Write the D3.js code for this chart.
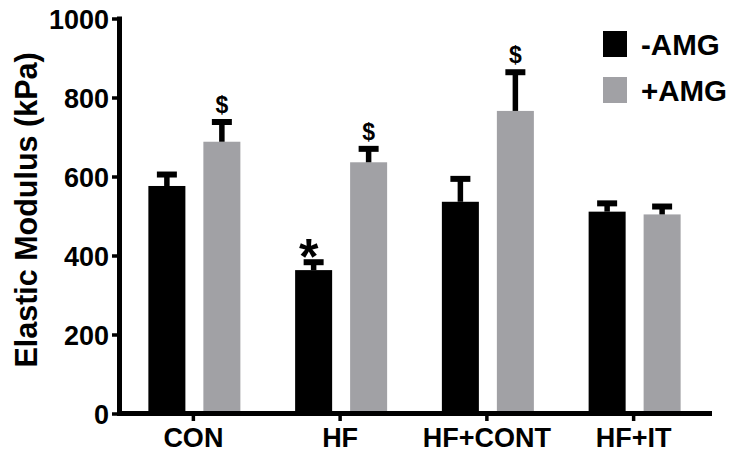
<!DOCTYPE html>
<html>
<head>
<meta charset="utf-8">
<script src="https://cdn.jsdelivr.net/npm/d3@7"></script>
<style>
  html, body { margin: 0; padding: 0; background: #fff; }
  svg { display: block; font-family: "Liberation Sans", Arial, sans-serif; font-weight: bold; }
</style>
</head>
<body>
<svg id="chart" width="735" height="456"></svg>
<script>
// Elastic modulus by group, without (-AMG) and with (+AMG) treatment
const groups = ["CON", "HF", "HF+CONT", "HF+IT"];
const seriesNames = ["-AMG", "+AMG"];
const meanMinus = [576, 363, 536, 511];
const semMinus = [29, 20, 58, 21];
const meanPlus = [688, 636, 766, 504];
const semPlus = [50, 34, 98, 20];
// significance markers drawn above the error bars
const markMinus = ["", "*", "", ""];
const markPlus = ["$", "$", "$", ""];
const yTicks = [0, 200, 400, 600, 800, 1000];
const yTitle = "Elastic Modulus (kPa)";
const colors = ["#000000", "#a1a1a5"];

const series = [
  { name: seriesNames[0], mean: meanMinus, sem: semMinus, mark: markMinus, color: colors[0] },
  { name: seriesNames[1], mean: meanPlus, sem: semPlus, mark: markPlus, color: colors[1] }
];

const svg = d3.select("#chart");

const y = d3.scaleLinear().domain([0, 1000]).range([413.5, 18.5]);
const x = d3.scaleBand().domain(groups).range([120, 707]).paddingInner(0).paddingOuter(0);
const xSub = d3.scaleBand().domain(seriesNames).range([-45, 47]).paddingInner(0.327).paddingOuter(0);

const axisX0 = 119.5;

// bars, error bars and markers
series.forEach(s => {
  const g = svg.append("g");
  groups.forEach((grp, i) => {
    const bx = x(grp) + x.bandwidth() / 2 + xSub(s.name);
    const bw = xSub.bandwidth();
    const cx = bx + bw / 2;
    g.append("rect")
      .attr("x", bx).attr("width", bw)
      .attr("y", y(s.mean[i])).attr("height", y(0) - y(s.mean[i]))
      .attr("fill", s.color);
    const top = y(s.mean[i] + s.sem[i]);
    g.append("line")
      .attr("x1", cx).attr("x2", cx)
      .attr("y1", y(s.mean[i])).attr("y2", top)
      .attr("stroke", "#000").attr("stroke-width", 5.5);
    g.append("line")
      .attr("x1", cx - 10).attr("x2", cx + 10)
      .attr("y1", top).attr("y2", top)
      .attr("stroke", "#000").attr("stroke-width", 6);
    if (s.mark[i] === "$") {
      g.append("text")
        .attr("x", cx).attr("y", top - 9)
        .attr("text-anchor", "middle")
        .attr("font-size", 23)
        .attr("fill", "#000")
        .text(s.mark[i]);
    } else if (s.mark[i] === "*") {
      g.append("text")
        .attr("x", cx - 5).attr("y", top + 12)
        .attr("text-anchor", "middle")
        .attr("font-size", 50)
        .attr("fill", "#000")
        .text(s.mark[i]);
    }
  });
});

// y axis
const yAxis = d3.axisLeft(y).tickValues(yTicks).tickSize(5).tickPadding(3).tickFormat(d3.format("d"));
const gy = svg.append("g").attr("transform", `translate(${axisX0 - 2.5},0)`).call(yAxis);
gy.select(".domain").remove();
gy.selectAll(".tick line").attr("stroke", "#000").attr("stroke-width", 3.5);
gy.selectAll(".tick text").attr("font-size", 27).attr("font-family", "Liberation Sans, Arial, sans-serif")
  .attr("font-weight", "bold").attr("fill", "#000").attr("dy", "0.36em");
svg.append("line")
  .attr("x1", axisX0).attr("x2", axisX0)
  .attr("y1", y(1000) - 2).attr("y2", y(0) + 2.5)
  .attr("stroke", "#000").attr("stroke-width", 5);

// x axis
const xAxis = d3.axisBottom(x).tickSize(5).tickPadding(8);
const gx = svg.append("g").attr("transform", `translate(0,${y(0) + 2.5})`).call(xAxis);
gx.select(".domain").remove();
gx.selectAll(".tick line").attr("stroke", "#000").attr("stroke-width", 3.5);
gx.selectAll(".tick text").attr("font-size", 27).attr("font-family", "Liberation Sans, Arial, sans-serif")
  .attr("font-weight", "bold").attr("fill", "#000").attr("dy", "0.67em");
svg.append("line")
  .attr("x1", axisX0 - 2.5).attr("x2", 712)
  .attr("y1", y(0)).attr("y2", y(0))
  .attr("stroke", "#000").attr("stroke-width", 5);

// y axis title
svg.append("text")
  .attr("transform", "translate(37,210) rotate(-90)")
  .attr("text-anchor", "middle")
  .attr("font-size", 30.5)
  .attr("fill", "#000")
  .text(yTitle);

// legend
const legend = svg.append("g").attr("transform", "translate(603,31)");
series.forEach((s, i) => {
  const row = legend.append("g").attr("transform", `translate(0,${i * 46})`);
  row.append("rect").attr("width", 24).attr("height", 26).attr("fill", s.color);
  row.append("text")
    .attr("x", 38).attr("y", 24)
    .attr("font-size", 29.5)
    .attr("fill", "#000")
    .text(s.name);
});
</script>
</body>
</html>
